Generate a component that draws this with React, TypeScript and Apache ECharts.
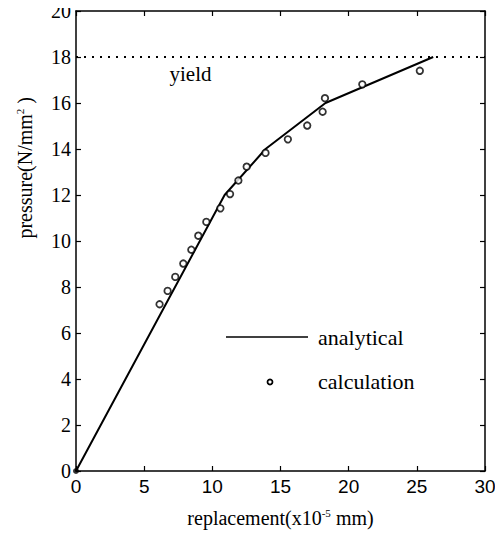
import React, { useEffect, useRef } from "react";
import * as echarts from "echarts";

const analyticalX = [0, 10.9, 13.9, 18.3, 26.2];
const analyticalY = [0, 12.0, 14.0, 16.0, 18.0];
const calcX = [6.13, 6.72, 7.28, 7.87, 8.46, 8.97, 9.56, 10.59, 11.3, 11.91, 12.52, 13.9, 15.54, 16.96, 18.09, 18.26, 21.0, 25.22];
const calcY = [7.25, 7.83, 8.44, 9.02, 9.62, 10.23, 10.83, 11.42, 12.04, 12.63, 13.23, 13.83, 14.42, 15.02, 15.62, 16.21, 16.81, 17.4];
const originPoint = [0, 0];
const yieldValue = 18;
const yieldLabelAt = [8.4, 17.25];
const xTicks = [0, 5, 10, 15, 20, 25, 30];
const yTicks = [0, 2, 4, 6, 8, 10, 12, 14, 16, 18, 20];

const SERIF = "'Liberation Serif', 'DejaVu Serif', serif";
const SANS = "'Liberation Sans', Arial, sans-serif";

export default function App() {
  const ref = useRef<HTMLDivElement>(null);
  useEffect(() => {
    if (!ref.current) return;
    const chart = echarts.init(ref.current, undefined, { renderer: "svg" });
    const axisLine = { show: true, onZero: false, lineStyle: { color: "#000", width: 1.5 } };
    const axisTick = { show: true, inside: true, length: 5, lineStyle: { color: "#000", width: 1.2 } };
    const option: any = {
      animation: false,
      backgroundColor: "#fff",
      grid: { left: 76, right: 18, top: 11, bottom: 67, containLabel: false },
      xAxis: [
        {
          type: "value",
          min: xTicks[0],
          max: xTicks[xTicks.length - 1],
          interval: 5,
          position: "bottom",
          axisLine,
          axisTick,
          splitLine: { show: false },
          axisLabel: { color: "#000", fontFamily: SANS, fontSize: 19, margin: 6 },
          name: "replacement(x10{sup|-5} mm)",
          nameLocation: "middle",
          nameGap: 36,
          nameTextStyle: {
            color: "#000",
            fontFamily: SERIF,
            fontSize: 20,
            rich: {
              sup: { fontFamily: SERIF, fontSize: 11, verticalAlign: "top", padding: [0, 0, 11, 0], color: "#000" },
            },
          },
        },
        {
          type: "value",
          min: xTicks[0],
          max: xTicks[xTicks.length - 1],
          interval: 5,
          position: "top",
          axisLine,
          axisTick,
          splitLine: { show: false },
          axisLabel: { show: false },
        },
      ],
      yAxis: [
        {
          type: "value",
          min: yTicks[0],
          max: yTicks[yTicks.length - 1],
          interval: 2,
          position: "left",
          axisLine,
          axisTick,
          splitLine: { show: false },
          axisLabel: { color: "#000", fontFamily: SERIF, fontSize: 20, margin: 5 },
        },
        {
          type: "value",
          min: yTicks[0],
          max: yTicks[yTicks.length - 1],
          interval: 2,
          position: "right",
          axisLine,
          axisTick,
          splitLine: { show: false },
          axisLabel: { show: false },
        },
      ],
      series: [
        {
          name: "yield",
          type: "line",
          data: [
            [xTicks[0], yieldValue],
            [xTicks[xTicks.length - 1], yieldValue],
          ],
          symbol: "none",
          lineStyle: { color: "#000", width: 2, type: [2, 6] },
          silent: true,
          markPoint: {
            symbol: "circle",
            symbolSize: 0,
            data: [{ coord: yieldLabelAt, value: "yield" }],
            label: {
              show: true,
              formatter: "yield",
              color: "#000",
              fontFamily: SERIF,
              fontSize: 21,
              position: "inside",
            },
          },
        },
        {
          name: "analytical",
          type: "line",
          data: analyticalX.map((x, i) => [x, analyticalY[i]]),
          symbol: "none",
          lineStyle: { color: "#000", width: 2 },
        },
        {
          name: "calculation",
          type: "scatter",
          data: calcX.map((x, i) => [x, calcY[i]]),
          symbol: "circle",
          symbolSize: 6.5,
          itemStyle: { color: "#fff", borderColor: "#000", borderWidth: 1.8 },
          z: 5,
        },
        {
          name: "origin",
          type: "scatter",
          data: [originPoint],
          symbol: "circle",
          symbolSize: 6,
          itemStyle: { color: "#000" },
          z: 6,
        },
      ],
      graphic: [
        {
          type: "text",
          left: 14,
          top: 97,
          rotation: Math.PI / 2,
          style: {
            text: "pressure(N/mm{sup|2} )",
            fill: "#000",
            font: `20px ${SERIF}`,
            rich: { sup: { fontSize: 11, fontFamily: SERIF, verticalAlign: "top", padding: [0, 0, 11, 0] } },
          },
        },
        { type: "line", shape: { x1: 226, y1: 337, x2: 308, y2: 337 }, style: { stroke: "#000", lineWidth: 1.5 } },
        {
          type: "text",
          x: 318,
          y: 337,
          style: { text: "analytical", fill: "#000", font: `22px ${SERIF}`, verticalAlign: "middle" },
        },
        { type: "circle", shape: { cx: 270, cy: 382, r: 2.5 }, style: { fill: "#fff", stroke: "#000", lineWidth: 1.8 } },
        {
          type: "text",
          x: 318,
          y: 381,
          style: { text: "calculation", fill: "#000", font: `22px ${SERIF}`, verticalAlign: "middle" },
        },
      ],
    };
    chart.setOption(option);
    return () => chart.dispose();
  }, []);
  return <div ref={ref} style={{ width: 503, height: 538, margin: -8 }} />;
}
